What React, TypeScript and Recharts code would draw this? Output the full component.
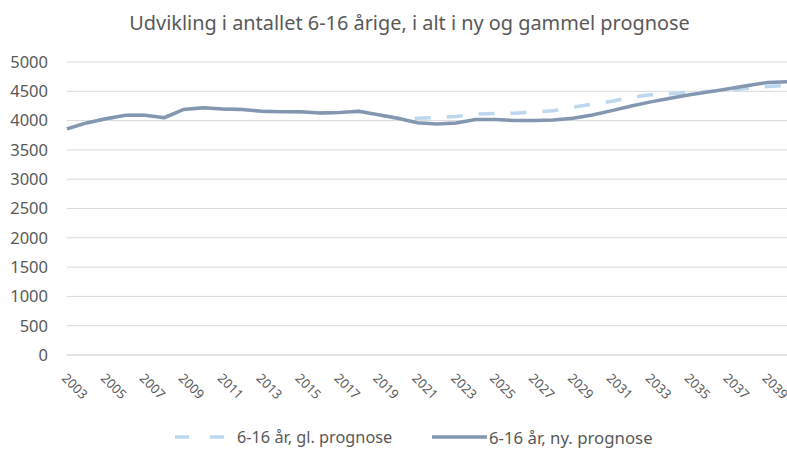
import React from 'react';
import { LineChart, Line, XAxis, YAxis, CartesianGrid } from 'recharts';

// categories and series (2040 is plotted but not labelled)
const years = [
  '2003', '2004', '2005', '2006', '2007', '2008', '2009', '2010', '2011', '2012',
  '2013', '2014', '2015', '2016', '2017', '2018', '2019', '2020', '2021', '2022',
  '2023', '2024', '2025', '2026', '2027', '2028', '2029', '2030', '2031', '2032',
  '2033', '2034', '2035', '2036', '2037', '2038', '2039', '2040',
];

const glPrognose = [
  3860, 3960, 4030, 4090, 4090, 4050, 4190, 4220, 4200, 4190,
  4160, 4150, 4150, 4130, 4140, 4160, 4100, 4040, 4040, 4050,
  4070, 4110, 4120, 4125, 4145, 4170, 4230, 4280, 4330, 4400,
  4440, 4460, 4480, 4500, 4520, 4550, 4580, 4600,
];

const nyPrognose = [
  3860, 3960, 4030, 4090, 4090, 4050, 4190, 4220, 4200, 4190,
  4160, 4150, 4150, 4130, 4140, 4160, 4100, 4040, 3965, 3940,
  3960, 4020, 4020, 4000, 4000, 4010, 4040, 4095, 4170, 4250,
  4320, 4380, 4440, 4490, 4545, 4600, 4650, 4665,
];

const yTicks = [0, 500, 1000, 1500, 2000, 2500, 3000, 3500, 4000, 4500, 5000];

const seriesNames = ['6-16 år, gl. prognose', '6-16 år, ny. prognose'];
const title = 'Udvikling i antallet 6-16 årige, i alt i ny og gammel prognose';

const FONT = '"Noto Sans", sans-serif';
const TEXT = '#595959';
const GL_COLOR = '#BDD7EE';
const NY_COLOR = '#8497B0';

const data = years.map((year, i) => ({
  year,
  gl: glPrognose[i],
  ny: nyPrognose[i],
}));

const YearTick = (props: any) => {
  const { x, y, payload } = props;
  const ax = x - 6;
  const ay = y + 24;
  return (
    <text
      x={ax}
      y={ay}
      transform={`rotate(45, ${ax}, ${ay})`}
      textAnchor="start"
      fill={TEXT}
      fontSize={13}
      fontFamily={FONT}
    >
      {payload.value}
    </text>
  );
};

export default function App() {
  return (
    <div style={{ position: 'relative', width: 787, height: 450, background: '#ffffff', fontFamily: FONT, overflow: 'hidden' }}>
      <style>{`body { margin: 0; }`}</style>
      {/* Title, centred a little right of the page middle like the reference */}
      <div style={{
        position: 'absolute',
        top: 9,
        left: 16,
        width: 787,
        textAlign: 'center',
        fontSize: 19.9,
        color: TEXT,
        whiteSpace: 'nowrap',
      }}>
        {title}
      </div>

      <LineChart
        width={787}
        height={450}
        data={data}
        margin={{ top: 62, right: 0, bottom: 0, left: 0 }}
      >
        <CartesianGrid vertical={false} stroke="#d9d9d9" />
        <XAxis
          dataKey="year"
          interval={1}
          axisLine={{ stroke: '#d9d9d9' }}
          tickLine={false}
          tickSize={0}
          tickMargin={0}
          tick={<YearTick />}
          height={95}
        />
        <YAxis
          domain={[0, 5000]}
          ticks={yTicks}
          interval={0}
          width={67}
          axisLine={false}
          tickLine={false}
          tickSize={0}
          tickMargin={19}
          tick={{ fill: TEXT, fontSize: 16.5, fontFamily: FONT }}
        />
        <Line
          type="linear"
          dataKey="gl"
          name={seriesNames[0]}
          stroke={GL_COLOR}
          strokeWidth={3.5}
          strokeDasharray="16 16"
          dot={false}
          isAnimationActive={false}
        />
        <Line
          type="linear"
          dataKey="ny"
          name={seriesNames[1]}
          stroke={NY_COLOR}
          strokeWidth={3.5}
          dot={false}
          isAnimationActive={false}
        />
      </LineChart>

      {/* Legend */}
      <svg width={120} height={10} style={{ position: 'absolute', left: 175, top: 432 }}>
        <line x1={0} y1={5} x2={52} y2={5} stroke={GL_COLOR} strokeWidth={3.5} strokeDasharray="14 21" />
      </svg>
      <span style={{ position: 'absolute', left: 237, top: 426, fontSize: 16.3, color: TEXT, whiteSpace: 'nowrap' }}>
        {seriesNames[0]}
      </span>
      <svg width={60} height={10} style={{ position: 'absolute', left: 432, top: 432 }}>
        <line x1={0} y1={5} x2={55} y2={5} stroke={NY_COLOR} strokeWidth={3.5} />
      </svg>
      <span style={{ position: 'absolute', left: 489, top: 426, fontSize: 16.8, color: TEXT, whiteSpace: 'nowrap' }}>
        {seriesNames[1]}
      </span>
    </div>
  );
}
